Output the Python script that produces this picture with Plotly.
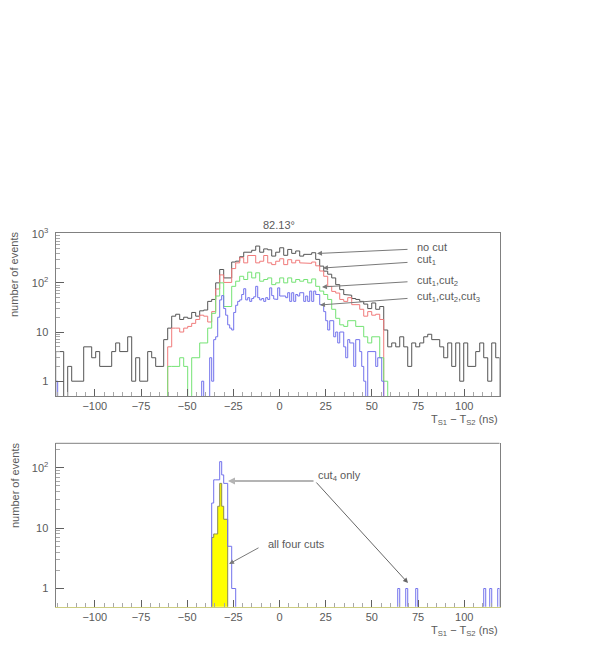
import math
import plotly.graph_objects as go

FIG_W, FIG_H = 599, 654

# ---------------- data ----------------
bin_start = -121.2      # ns, lower edge of first bin
bin_width = 2.166       # ns, coarse bins (no cut / cut1 / cut1,cut2)
fine_width = 1.083      # ns, fine bins (cut1,cut2,cut3 and lower panel)

x_ticks = [-100, -75, -50, -25, 0, 25, 50, 75, 100]
x_ticklabels = ["\u2212100", "\u221275", "\u221250", "\u221225", "0", "25", "50", "75", "100"]
y_ticks = [1, 10, 100, 1000]
y_ticklabels = ["1", "10", "10<sup>2</sup>", "10<sup>3</sup>"]
y_minor = [2, 3, 4, 5, 6, 7, 8, 9, 20, 30, 40, 50, 60, 70, 80, 90,
           200, 300, 400, 500, 600, 700, 800, 900]

# upper panel: events per coarse bin
no_cut = [4, 4, 0, 2, 1, 1, 1, 5, 5, 3,
          4, 2, 2, 2, 4, 6, 4, 4, 8, 1,
          3, 1, 1, 4, 3, 2, 2, 7, 12, 21,
          23, 18, 20, 19, 25, 21, 27, 28, 42, 46,
          100, 187, 126, 126, 265, 276, 340, 420, 420, 460,
          560, 420, 490, 470, 350, 420, 517, 363, 478, 398,
          445, 350, 380, 380, 410, 300, 219, 173, 150, 126,
          92, 73, 58, 56, 48, 46, 42, 37, 30, 39,
          29, 33, 11, 5, 6, 5, 8, 5, 2, 6,
          5, 6, 8, 9, 7, 7, 5, 3, 6, 2,
          6, 1, 6, 2, 2, 4, 6, 3, 1, 6, 3]

cut1_first_bin = 28
cut1 = [5, 12, 12, 10, 12, 13, 15, 18, 22, 21,
        16, 26, 75, 145, 102, 102, 195, 255, 325, 255,
        360, 360, 255, 275, 360, 255, 235, 275, 309, 235,
        296, 255, 288, 255, 249, 249, 265, 222, 174, 136,
        85, 67, 62, 46, 42, 50, 36, 36, 29, 21,
        26, 22, 23, 18]

cut12_first_bin = 28
cut12 = [2, 2, 2, 3, 2, 0, 3, 3, 6, 6,
         12, 24, 54, 100, 33, 33, 85, 108, 136, 117,
         165, 126, 160, 108, 117, 126, 92, 100, 126, 100,
         126, 103, 117, 108, 117, 100, 120, 85, 68, 58,
         46, 29, 19, 14, 13, 17, 17, 13, 13, 8,
         6, 8, 8, 3, 1]

# cut1,cut2,cut3 in fine bins: (bin index, count)
cut123_bins = [0, 73] + list(range(77, 164))
cut123_counts = [1, 1,
                 3, 1, 7, 8, 20, 45, 55, 30, 22, 14,
                 12, 11, 25, 35, 42, 45, 58, 76, 45, 50,
                 42, 48, 52, 85, 50, 45, 48, 42, 50, 46,
                 79, 55, 47, 46, 79, 54, 54, 54, 50, 63,
                 42, 63, 42, 58, 54, 63, 63, 42, 54, 42,
                 68, 42, 68, 58, 58, 36, 36, 26, 17, 11,
                 17, 17, 8, 10, 6, 10, 10, 5, 3, 7,
                 6, 6, 2, 7, 7, 4, 2, 1, 0, 4,
                 4, 4, 4, 2, 3, 3, 1]

# lower panel (fine bins)
cut4_bins = [78, 79, 80, 81, 82, 83, 84, 85, 86, 87, 88, 89, 171, 175, 180, 214, 217, 221]
cut4_counts = [26, 63, 63, 63, 126, 76, 55, 55, 5, 5, 1, 1, 1, 1, 1, 1, 1, 1]
all4_bins = [78, 79, 80, 81, 82, 83, 84, 85]
all4_counts = [7, 8, 8, 23, 55, 23, 14, 14]

# ---------------- helpers ----------------
FLOOR = 0.3  # below the axis minimum -> drawn down to the frame


def dense(bins, counts):
    n = max(bins) + 1
    out = [0] * n
    for b, c in zip(bins, counts):
        out[b] = c
    return out


def outline(counts, width, first=0):
    xs, ys = [], []
    hi = bin_start
    for i, c in enumerate(counts):
        lo = bin_start + (first + i) * width
        hi = lo + width
        v = c if c > 0 else FLOOR
        if not xs:
            xs.append(lo)
            ys.append(FLOOR)
        xs += [lo, hi]
        ys += [v, v]
    xs.append(hi)
    ys.append(FLOOR)
    return xs, ys


BLACK = "#555555"
RED = "#f07a7a"
GREEN = "#74e374"
BLUE = "#7272ec"
TXT = "#5a5a5a"
FONT = "Liberation Sans"

fig = go.Figure()


def add_hist(counts, width, first, color, xa, ya, fill=None, fillcolor=None):
    xs, ys = outline(counts, width, first)
    fig.add_trace(go.Scatter(
        x=xs, y=ys, mode="lines", line=dict(color=color, width=1),
        fill=fill, fillcolor=fillcolor, xaxis=xa, yaxis=ya,
        hoverinfo="skip", showlegend=False))


add_hist(no_cut, bin_width, 0, BLACK, "x", "y")
add_hist(cut1, bin_width, cut1_first_bin, RED, "x", "y")
add_hist(cut12, bin_width, cut12_first_bin, GREEN, "x", "y")
add_hist(dense(cut123_bins, cut123_counts), fine_width, 0, BLUE, "x", "y")

add_hist(dense(all4_bins, all4_counts)[78:], fine_width, 78, "#8c8c50", "x2", "y2",
         fill="toself", fillcolor="#ffff00")
add_hist(dense(cut4_bins, cut4_counts)[78:], fine_width, 78, BLUE, "x2", "y2")

# ---------------- layout ----------------
X0, X1 = 55.5 / FIG_W, 499.5 / FIG_W
TOP_DOM = [1 - 396.0 / FIG_H, 1 - 232.7 / FIG_H]
BOT_DOM = [1 - 606.7 / FIG_H, 1 - 443.3 / FIG_H]
XR = [-121.3, 119.1]

tickfont = dict(family=FONT, size=11, color=TXT)


def xaxis(domain_anchor, linecolor="#808080", mirror=True):
    return dict(domain=[X0, X1], range=XR, anchor=domain_anchor,
                tickmode="array", tickvals=x_ticks, ticktext=x_ticklabels,
                showgrid=False, zeroline=False, showline=True, mirror=mirror,
                linecolor=linecolor, linewidth=1,
                ticks="inside", ticklen=7, tickwidth=1, tickcolor="#606060",
                minor=dict(ticks="inside", dtick=5, tick0=0, ticklen=4,
                           tickcolor="#a8a8a8", showgrid=False),
                tickfont=tickfont, ticklabelstandoff=0, fixedrange=True)


def yaxis(domain, top, anchor):
    return dict(type="log", domain=domain, range=[math.log10(0.5), top], anchor=anchor,
                tickmode="array", tickvals=y_ticks, ticktext=y_ticklabels,
                showgrid=False, zeroline=False, showline=True, mirror=True,
                linecolor="#808080", linewidth=1,
                ticks="inside", ticklen=8, tickwidth=1, tickcolor="#606060",
                minor=dict(ticks="inside", tickmode="array", tickvals=y_minor,
                           ticklen=4, tickcolor="#a8a8a8", showgrid=False),
                tickfont=tickfont, ticklabelstandoff=4, fixedrange=True)


def P(px, py):
    return px / FIG_W, 1 - py / FIG_H


annotations = []


def text(s, px, py, xanchor="left", angle=0, size=11):
    x, y = P(px, py)
    annotations.append(dict(x=x, y=y, xref="paper", yref="paper", text=s,
                            showarrow=False, xanchor=xanchor, yanchor="middle",
                            textangle=angle,
                            font=dict(family=FONT, size=size, color=TXT)))


def arrow(head, tail, color="#7a7a7a", width=1, size=1.0, head_style=2):
    x, y = P(*head)
    annotations.append(dict(x=x, y=y, xref="paper", yref="paper", text="",
                            showarrow=True, arrowhead=head_style, arrowsize=size,
                            arrowwidth=width, arrowcolor=color,
                            ax=tail[0] - head[0], ay=tail[1] - head[1]))


text("82.13\u00b0", 279, 225, xanchor="center")
text("number of events", 14, 275, xanchor="center", angle=-90)
text("number of events", 15, 486, xanchor="center", angle=-90)
text("T<sub>S1</sub> \u2212 T<sub>S2</sub> (ns)", 500, 420, xanchor="right")
text("T<sub>S1</sub> \u2212 T<sub>S2</sub> (ns)", 500, 631, xanchor="right")

text("no cut", 415, 247)
text("cut<sub>1</sub>", 415, 260)
text("cut<sub>1</sub>,cut<sub>2</sub>", 415, 281)
text("cut<sub>1</sub>,cut<sub>2</sub>,cut<sub>3</sub>", 415, 297)
arrow((317, 253.5), (409, 249.3))
arrow((323, 268), (409, 262.3))
arrow((322, 287), (409, 281.7))
arrow((320, 305), (409, 298.3))

text("cut<sub>4</sub> only", 316, 476)
text("all four cuts", 266, 543.5)
arrow((228, 481), (315, 481), color="#b4b4b4", width=2, size=0.7)
arrow((408, 583), (315, 481), color="#666666")
arrow((229, 564), (260, 547), color="#7a7a7a")

shapes = [dict(type="line", xref="x2 domain", yref="y2 domain", x0=0, x1=1, y0=1, y1=1,
               line=dict(color="#808080", width=1))]

fig.update_layout(
    width=FIG_W, height=FIG_H, autosize=False,
    margin=dict(l=0, r=0, t=0, b=0),
    paper_bgcolor="white", plot_bgcolor="white",
    template="none", showlegend=False,
    xaxis=xaxis("y"),
    yaxis=yaxis(TOP_DOM, 3.02, "x"),
    xaxis2=xaxis("y2", linecolor="#cccc80", mirror=False),
    yaxis2=yaxis(BOT_DOM, 2.404, "x2"),
    annotations=annotations,
    shapes=shapes,
)

fig.write_html(
    "out.html",
    config={"displayModeBar": False},
    post_script="document.body.style.margin='0';document.body.style.overflow='hidden';",
)
